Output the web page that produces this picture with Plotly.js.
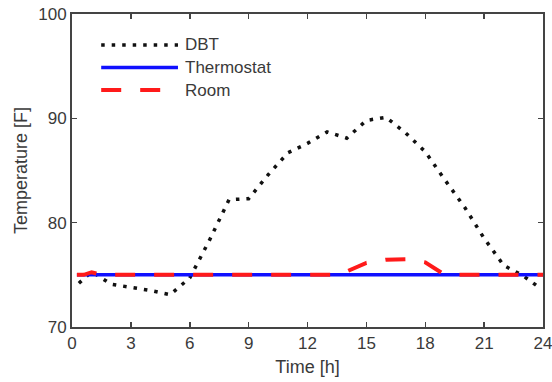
<!DOCTYPE html>
<html>
<head>
<meta charset="utf-8">
<script src="https://cdn.plot.ly/plotly-3.0.1.min.js"></script>
<style>
html,body{margin:0;padding:0;background:#fff;}
#chart{width:552px;height:382px;}
</style>
</head>
<body>
<div id="chart"></div>
<script>
// ---- data ----
const dbtHours = [0.35, 1, 2, 3, 4, 5, 6, 7, 8, 9, 10, 11, 12, 13, 14, 15, 16, 17, 18, 19, 20, 21, 22, 23, 23.65];
const dbtValues = [74.2, 75.3, 74.1, 73.8, 73.5, 73.1, 74.7, 78.3, 82.2, 82.3, 84.6, 86.7, 87.6, 88.7, 88.1, 89.8, 90.1, 88.6, 86.8, 84.1, 81.5, 78.5, 75.9, 74.9, 74.0];
const thermostatHours = [0.25, 24];
const thermostatValues = [75, 75];
const roomHours = [0.25, 0.6, 1, 1.5, 13.6, 14, 15, 16, 17, 18, 19, 24];
const roomValues = [75, 75, 75.25, 75, 75, 75.3, 76.15, 76.45, 76.5, 76.2, 75, 75];
const seriesNames = ["DBT", "Thermostat", "Room"];
const xTicks = [0, 3, 6, 9, 12, 15, 18, 21, 24];
const yTicks = [70, 80, 90, 100];

const FONT = "Liberation Sans, Arial, Helvetica, sans-serif";
const TXT = "#3a3a3a";
const colors = ["#111111", "#1010ff", "#ff1a1a"];
const dashes = ["3.5px,7px", "solid", "20px,19px"];
const widths = [3.5, 3.5, 4];

const traces = [
  {x: dbtHours, y: dbtValues, name: seriesNames[0], mode: "lines",
   line: {color: colors[0], width: widths[0], dash: dashes[0]}},
  {x: thermostatHours, y: thermostatValues, name: seriesNames[1], mode: "lines",
   line: {color: colors[1], width: widths[1], dash: dashes[1]}},
  {x: roomHours, y: roomValues, name: seriesNames[2], mode: "lines",
   line: {color: colors[2], width: widths[2], dash: dashes[2]}}
];

// custom legend (long sample lines like the original)
const legX0 = 0.062, legX1 = 0.225, legTextX = 0.236;
const legY = [0.901, 0.829, 0.757];
const shapes = [], annotations = [];
seriesNames.forEach((n, i) => {
  shapes.push({type: "line", xref: "paper", yref: "paper", x0: legX0, x1: legX1, y0: legY[i], y1: legY[i],
    line: {color: colors[i], width: widths[i], dash: dashes[i]}});
  annotations.push({xref: "paper", yref: "paper", x: legTextX, y: legY[i], text: n, showarrow: false,
    xanchor: "left", yanchor: "middle", font: {family: FONT, size: 17, color: TXT}});
});

const axisCommon = {
  showline: true, linecolor: "#444", linewidth: 2, mirror: "ticks",
  ticks: "inside", ticklen: 5, tickwidth: 1.5, tickcolor: "#444",
  showgrid: false, zeroline: false, automargin: false,
  ticklabeloverflow: "allow",
  tickfont: {family: FONT, size: 17, color: TXT}
};

const layout = {
  width: 552, height: 382,
  margin: {l: 72, r: 9, t: 14, b: 55},
  paper_bgcolor: "#fff", plot_bgcolor: "#fff",
  showlegend: false,
  xaxis: Object.assign({}, axisCommon, {
    range: [0, 24], tickvals: xTicks, ticktext: xTicks.map(String),
    title: {text: "Time [h]", font: {family: FONT, size: 18, color: TXT}, standoff: 8}
  }),
  yaxis: Object.assign({}, axisCommon, {
    range: [70, 100], tickvals: yTicks, ticktext: yTicks.map(String),
    title: {text: "Temperature [F]", font: {family: FONT, size: 18, color: TXT}, standoff: 6}
  }),
  shapes: shapes,
  annotations: annotations
};

Plotly.newPlot("chart", traces, layout, {staticPlot: true, displayModeBar: false});
</script>
</body>
</html>
